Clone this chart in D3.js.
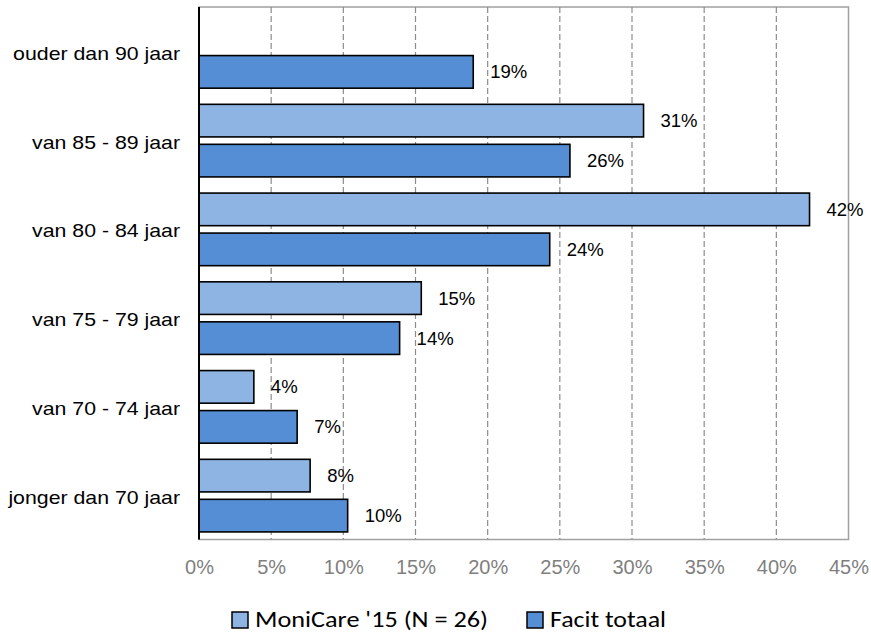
<!DOCTYPE html>
<html>
<head>
<meta charset="utf-8">
<script src="https://cdn.jsdelivr.net/npm/d3@7"></script>
<style>
  html, body { margin: 0; padding: 0; background: #fff; }
  svg { display: block; }
</style>
</head>
<body>
<svg id="chart" width="871" height="633"></svg>
<script>
// Age groups, top to bottom
const categories = [
  "ouder dan 90 jaar",
  "van 85 - 89 jaar",
  "van 80 - 84 jaar",
  "van 75 - 79 jaar",
  "van 70 - 74 jaar",
  "jonger dan 70 jaar"
];
const seriesNames = ["MoniCare '15 (N = 26)", "Facit totaal"];
// Shares in percent (null = no bar)
const monicareValues = [null, 30.8, 42.3, 15.4, 3.8, 7.7];
const facitValues = [19.0, 25.7, 24.3, 13.9, 6.8, 10.3];
const tickValues = [0, 5, 10, 15, 20, 25, 30, 35, 40, 45];
const colors = ["#8EB4E3", "#558ED5"];

const svg = d3.select("#chart");
const plot = { left: 199, right: 848.5, top: 7, bottom: 539.5 };

const x = d3.scaleLinear().domain([0, 45]).range([plot.left, plot.right]);
const y0 = d3.scaleBand().domain(categories)
  .range([plot.top + 0.5, plot.bottom + 0.5])
  .paddingInner(0.182).paddingOuter(0.091);
const y1 = d3.scaleBand().domain(seriesNames)
  .range([0, y0.bandwidth()]).paddingInner(0.185);

// Plot frame
svg.append("rect")
  .attr("x", plot.left).attr("y", plot.top)
  .attr("width", plot.right - plot.left).attr("height", plot.bottom - plot.top)
  .attr("fill", "none").attr("stroke", "#a0a0a0").attr("stroke-width", 1.5);

// Dashed vertical gridlines
svg.append("g").selectAll("line")
  .data(tickValues.filter(d => d > 0 && d < 45))
  .join("line")
  .attr("x1", d => x(d)).attr("x2", d => x(d))
  .attr("y1", plot.top).attr("y2", plot.bottom)
  .attr("stroke", "#8c8c8c").attr("stroke-width", 1.2)
  .attr("stroke-dasharray", "6,3");

// Bottom axis labels
const xAxis = d3.axisBottom(x).tickValues(tickValues)
  .tickFormat(d => d + "%").tickSize(0).tickPadding(0);
const gx = svg.append("g").attr("transform", `translate(0,${plot.bottom})`).call(xAxis);
gx.select(".domain").remove();
gx.selectAll("text")
  .attr("y", 34.5).attr("dy", null)
  .attr("fill", "#7f7f7f")
  .style("font-family", "'Liberation Sans', Arial, sans-serif")
  .style("font-size", "20px");

// Bars
const rows = categories.map((c, i) => ({
  category: c,
  values: [
    { series: seriesNames[0], value: monicareValues[i], color: colors[0] },
    { series: seriesNames[1], value: facitValues[i], color: colors[1] }
  ].filter(d => d.value !== null)
}));

const groups = svg.append("g").selectAll("g")
  .data(rows).join("g")
  .attr("transform", d => `translate(0,${y0(d.category)})`);

groups.selectAll("rect")
  .data(d => d.values).join("rect")
  .attr("x", x(0))
  .attr("y", d => y1(d.series))
  .attr("width", d => x(d.value) - x(0))
  .attr("height", y1.bandwidth())
  .attr("fill", d => d.color)
  .attr("stroke", "#000").attr("stroke-width", 1.6);

groups.selectAll("text")
  .data(d => d.values).join("text")
  .attr("x", d => x(d.value) + 17)
  .attr("y", d => y1(d.series) + y1.bandwidth() / 2 + 6.6)
  .attr("fill", "#000")
  .style("font-family", "'Liberation Sans', Arial, sans-serif")
  .style("font-size", "18.5px")
  .text(d => Math.round(d.value) + "%");

// Left axis line
svg.append("line")
  .attr("x1", plot.left).attr("x2", plot.left)
  .attr("y1", plot.top).attr("y2", plot.bottom)
  .attr("stroke", "#000").attr("stroke-width", 2);

// Category labels
svg.append("g").selectAll("text")
  .data(categories).join("text")
  .attr("transform", d => `translate(180,${y0(d) + y0.bandwidth() / 2 + 8}) scale(1.145,1)`)
  .attr("text-anchor", "end")
  .attr("fill", "#000")
  .style("font-family", "'Liberation Sans', Arial, sans-serif")
  .style("font-size", "18.6px")
  .text(d => d);

// Legend
const legendItems = [
  { name: seriesNames[0], color: colors[0], x: 232, width: 233 },
  { name: seriesNames[1], color: colors[1], x: 527, width: 116 }
];
const lg = svg.append("g").selectAll("g").data(legendItems).join("g")
  .attr("transform", d => `translate(${d.x},612)`);
lg.append("rect")
  .attr("width", 16).attr("height", 16)
  .attr("fill", d => d.color).attr("stroke", "#000").attr("stroke-width", 1.5);
lg.append("text")
  .attr("x", 23).attr("y", 15)
  .attr("textLength", d => d.width)
  .attr("lengthAdjust", "spacingAndGlyphs")
  .attr("fill", "#000")
  .style("font-family", "Calibri, Carlito, Lato, sans-serif")
  .style("font-size", "23px")
  .text(d => d.name);
</script>
</body>
</html>
